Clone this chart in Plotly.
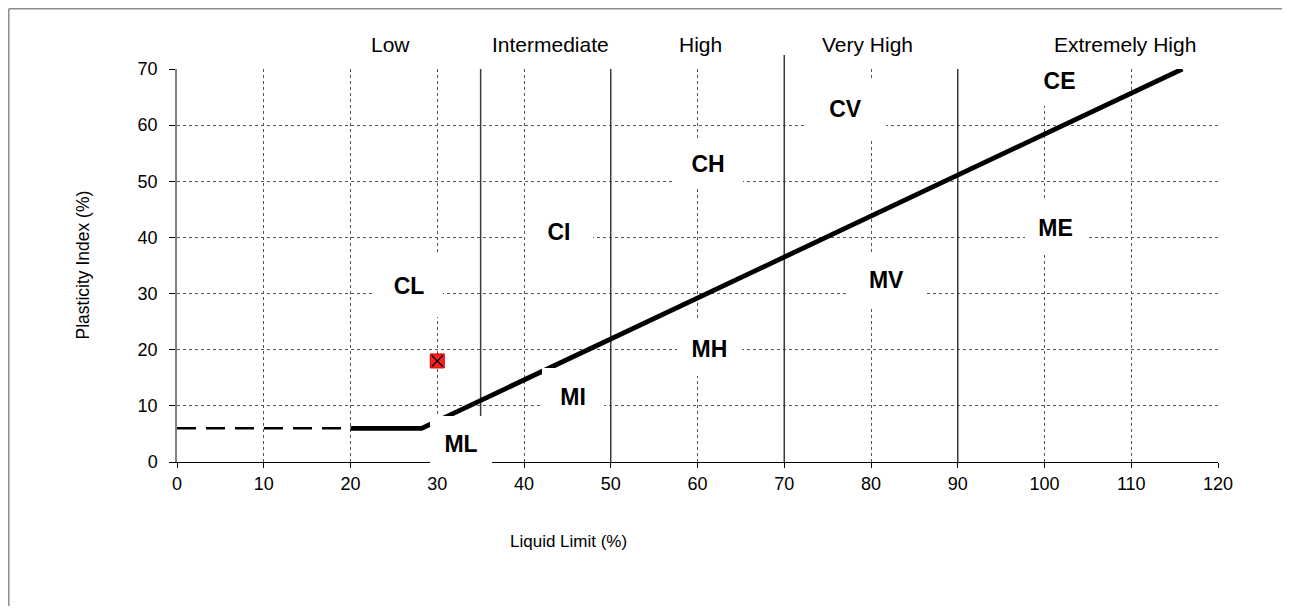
import plotly.graph_objects as go

# ---- data ----
# A-line (PI = 0.73*(LL-20)) with the 6% floor
aline_dash_x = [0, 20]
aline_dash_y = [6, 6]
aline_x = [20, 28.2, 115.9]
aline_y = [6, 6, 70]

# plasticity boundaries
boundary_x = [35, 50, 70, 90]
boundary_top = [70, 70, 70, 70]

# sample point
sample_ll = [30]
sample_pi = [18]

# zone labels
zone_labels = ["CL", "CI", "CH", "CV", "CE", "ME", "MV", "MH", "MI", "ML"]
zone_x = [26.7, 44.0, 61.2, 77.1, 101.7, 101.3, 81.8, 61.4, 45.6, 32.7]
zone_y = [31.4, 41.0, 53.2, 63.0, 67.8, 41.7, 32.4, 20.2, 11.6, 3.3]

# plasticity range labels
range_labels = ["Low", "Intermediate", "High", "Very High", "Extremely High"]
range_x = [24.6, 43.1, 60.4, 79.6, 109.3]

x_ticks = list(range(0, 121, 10))
y_ticks = list(range(0, 71, 10))

# ---- style ----
box_w = [68, 68, 70, 81, 67, 61, 77, 65, 62, 62]
box_h = [62, 56, 51, 61, 50, 54, 52, 55, 58, 55]
FONT = "Liberation Sans, Arial, sans-serif"

# page offset (body margin) = 8px; plot area in page pixels: x 177..1218, y 69..462
W, H = 1274, 598
L, T = 169, 61
PW, PH = 1041, 393


def px_to_paper_x(p):
    return (p - 8 - L) / PW


def px_to_paper_y(p):
    return (T + PH - (p - 8)) / PH


fig = go.Figure()

for bx, bt in zip(boundary_x, boundary_top):
    fig.add_trace(go.Scatter(x=[bx, bx], y=[0, bt], mode="lines",
                             line=dict(color="#3a3a3a", width=1.5),
                             hoverinfo="skip", showlegend=False))

fig.add_trace(go.Scatter(x=aline_dash_x, y=aline_dash_y, mode="lines",
                         line=dict(color="black", width=2.5, dash="19px,10px"),
                         showlegend=False))
fig.add_trace(go.Scatter(x=aline_x, y=aline_y, mode="lines",
                         line=dict(color="black", width=4.8),
                         showlegend=False))

fig.add_trace(go.Scatter(x=sample_ll, y=sample_pi, mode="markers",
                         marker=dict(symbol="square", size=14, color="#ff1f1f",
                                     line=dict(color="#cc0000", width=1)),
                         showlegend=False))
fig.add_trace(go.Scatter(x=sample_ll, y=sample_pi, mode="markers",
                         marker=dict(symbol="x-thin", size=11, color="black",
                                     line=dict(color="black", width=1.3)),
                         showlegend=False))

annotations = []
for t, x, y, w, h in zip(zone_labels, zone_x, zone_y, box_w, box_h):
    annotations.append(dict(x=x, y=y, xref="x", yref="y", text=f"<b>{t}</b>",
                            showarrow=False, bgcolor="white", borderwidth=0,
                            borderpad=0, width=w, height=h,
                            font=dict(family=FONT, size=23, color="black")))

top_y = px_to_paper_y(45)
for t, x in zip(range_labels, range_x):
    annotations.append(dict(x=x, y=top_y, xref="x", yref="paper", text=t,
                            showarrow=False, xanchor="center", yanchor="middle",
                            font=dict(family=FONT, size=21, color="black")))

annotations.append(dict(x=px_to_paper_x(568), y=px_to_paper_y(553), xref="paper",
                        yref="paper", text="Liquid Limit (%)", showarrow=False,
                        font=dict(family=FONT, size=17, color="black")))
annotations.append(dict(x=px_to_paper_x(70), y=0.5, xref="paper", yref="paper",
                        text="Plasticity Index (%)", showarrow=False, textangle=-90,
                        font=dict(family=FONT, size=17.5, color="black")))

frame_x = px_to_paper_x(8.8)
frame_y = px_to_paper_y(8.8)
shapes = [
    # outer chart frame (left and top edges visible)
    dict(type="line", xref="paper", yref="paper", x0=frame_x, x1=frame_x,
         y0=-0.8, y1=frame_y, line=dict(color="#8c8c8c", width=1.5)),
    dict(type="line", xref="paper", yref="paper", x0=frame_x, x1=1.6,
         y0=frame_y, y1=frame_y, line=dict(color="#8c8c8c", width=1.5)),
    # the 70% boundary runs slightly above the plot top
    dict(type="line", xref="x", yref="paper", x0=boundary_x[2], x1=boundary_x[2],
         y0=1.0, y1=px_to_paper_y(55), line=dict(color="#3a3a3a", width=1.5)),
]

fig.update_layout(
    width=W, height=H,
    margin=dict(l=L, r=W - L - PW, t=T, b=H - T - PH),
    paper_bgcolor="white", plot_bgcolor="white",
    showlegend=False,
    annotations=annotations,
    shapes=shapes,
    font=dict(family=FONT, color="black"),
)

fig.update_xaxes(range=[0, 120], tickvals=x_ticks, ticks="outside", ticklen=5,
                 tickcolor="black", showline=True, linecolor="black", linewidth=1.2,
                 showgrid=True, gridcolor="#555555", griddash="dot", gridwidth=1,
                 zeroline=False, tickfont=dict(family=FONT, size=18, color="black"),
                 ticklabelstandoff=0)
fig.update_yaxes(range=[0, 70], tickvals=y_ticks, ticks="outside", ticklen=6,
                 tickcolor="black", showline=True, linecolor="#808080", linewidth=1.5,
                 showgrid=True, gridcolor="#555555", griddash="dot", gridwidth=1,
                 zeroline=False, tickfont=dict(family=FONT, size=18, color="black"),
                 ticklabelstandoff=8)

fig.write_html("out.html")
